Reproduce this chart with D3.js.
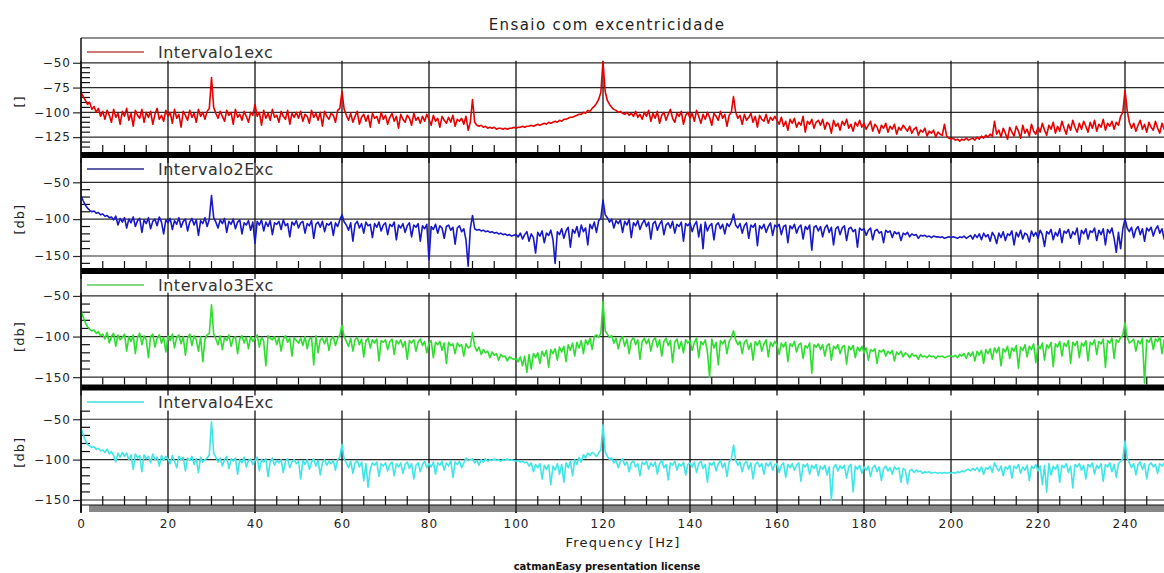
<!DOCTYPE html>
<html>
<head>
<meta charset="utf-8">
<script src="https://cdn.jsdelivr.net/npm/d3@7"></script>
<style>
  html, body { margin: 0; padding: 0; background: #fff; }
  svg { display: block; font-family: "DejaVu Sans", Verdana, sans-serif; }
</style>
</head>
<body>
<svg id="chart" width="1164" height="573"></svg>
<script>
// Spectrum lines are sampled every 0.5 Hz from 0 to 250 Hz.
const FREQ_STEP = 0.5;
const freqTicks = [0, 20, 40, 60, 80, 100, 120, 140, 160, 180, 200, 220, 240];

const seriesNames = ["Intervalo1exc", "Intervalo2Exc", "Intervalo3Exc", "Intervalo4Exc"];
const unitLabels = ["[]", "[db]", "[db]", "[db]"];
const yTicksFirst = [-50, -75, -100, -125];
const yTicksOther = [-50, -100, -150];

// Amplitude spectra, one value per 0.5 Hz bin (dB)
const intervalo1exc = [
  -80, -84, -88, -92, -90, -97, -94, -100, -96, -104, -99, -107, -98, -103, -110, -97, -105, -101, -112, -99,
  -104, -96, -108, -101, -114, -98, -103, -106, -97, -110, -100, -105, -99, -112, -102, -96, -107, -103, -109, -98,
  -104, -100, -111, -97, -106, -102, -115, -99, -103, -108, -98, -105, -101, -110, -97, -104, -100, -107, -99, -96,
  -65, -95, -101, -106, -99, -104, -109, -98, -103, -100, -112, -97, -105, -102, -108, -99, -104, -110, -100, -103,
  -92, -104, -100, -113, -98, -106, -101, -108, -97, -105, -103, -110, -99, -104, -107, -98, -112, -101, -105, -100,
  -106, -99, -109, -102, -104, -111, -98, -105, -101, -108, -100, -114, -99, -104, -107, -101, -103, -110, -98, -96,
  -79, -97, -103, -108, -101, -110, -104, -99, -112, -105, -102, -109, -103, -115, -101, -106, -104, -111, -100, -107,
  -103, -112, -105, -101, -109, -104, -116, -102, -107, -110, -103, -106, -113, -101, -108, -105, -111, -104, -109, -102,
  -107, -113, -103, -109, -106, -115, -104, -108, -111, -105, -110, -103, -114, -107, -109, -106, -112, -104, -118, -110,
  -87, -110, -113, -114, -113, -115, -114, -116, -115, -116, -115, -117, -116, -116, -117, -116, -117, -116, -116, -115,
  -116, -115, -115, -114, -115, -114, -114, -113, -114, -113, -112, -113, -112, -111, -112, -110, -111, -110, -109, -110,
  -108, -109, -107, -107, -106, -105, -105, -104, -103, -102, -102, -100, -101, -98, -99, -96, -94, -91, -87, -80,
  -49, -79, -88, -92, -95, -97, -98, -100, -99, -101, -102, -100, -103, -101, -104, -99, -105, -102, -107, -100,
  -104, -98, -109, -101, -106, -99, -111, -103, -100, -108, -102, -97, -106, -110, -101, -104, -99, -112, -103, -100,
  -106, -101, -109, -98, -104, -111, -102, -107, -100, -105, -113, -101, -104, -108, -99, -106, -102, -114, -103, -100,
  -84, -100, -106, -103, -112, -102, -108, -105, -101, -110, -104, -115, -103, -107, -109, -102, -111, -105, -108, -104,
  -108, -112, -105, -114, -109, -118, -107, -111, -106, -115, -110, -113, -104, -120, -109, -112, -107, -116, -110, -108,
  -113, -107, -117, -110, -112, -121, -108, -114, -111, -118, -109, -113, -107, -116, -112, -119, -110, -114, -108, -115,
  -111, -117, -113, -109, -119, -112, -115, -121, -113, -116, -111, -120, -114, -117, -112, -122, -115, -118, -113, -116,
  -119, -114, -121, -117, -115, -123, -118, -120, -116, -124, -119, -121, -118, -125, -120, -122, -123, -112, -124, -126,
  -127, -126, -128, -127, -129, -127, -128, -126, -128, -127, -126, -128, -125, -127, -124, -126, -123, -125, -122, -124,
  -109, -122, -118, -125, -116, -121, -127, -115, -120, -124, -114, -119, -126, -113, -121, -117, -124, -112, -119, -122,
  -115, -120, -111, -118, -123, -113, -117, -110, -121, -114, -119, -109, -116, -122, -112, -118, -108, -115, -120, -111,
  -117, -109, -114, -120, -110, -116, -108, -119, -112, -115, -107, -118, -111, -114, -109, -117, -110, -113, -104, -100,
  -78, -98, -110, -116, -111, -119, -113, -108, -117, -112, -120, -110, -115, -118, -109, -116, -121, -111, -117, -113, -115
];

const intervalo2Exc = [
  -68, -75, -81, -85, -88, -90, -89, -92, -91, -94, -93, -96, -95, -98, -97, -101, -96, -108, -99, -104,
  -98, -112, -100, -105, -97, -110, -102, -99, -118, -101, -106, -98, -113, -103, -100, -109, -97, -104, -120, -101,
  -105, -99, -114, -102, -107, -98, -111, -103, -100, -116, -104, -99, -108, -101, -122, -102, -106, -98, -110, -100,
  -68, -98, -104, -112, -101, -106, -99, -118, -103, -107, -100, -113, -104, -101, -120, -105, -108, -102, -115, -104,
  -133, -103, -108, -101, -116, -104, -110, -102, -121, -105, -107, -103, -114, -101, -109, -106, -124, -104, -108, -102,
  -112, -105, -103, -119, -106, -109, -102, -126, -107, -104, -111, -103, -117, -106, -108, -104, -122, -105, -110, -101,
  -94, -104, -108, -115, -105, -130, -107, -103, -112, -106, -119, -104, -109, -107, -125, -106, -111, -104, -116, -108,
  -105, -121, -107, -110, -104, -128, -108, -112, -106, -118, -109, -105, -124, -108, -111, -106, -130, -109, -113, -107,
  -155, -110, -114, -107, -119, -109, -112, -126, -110, -108, -115, -111, -134, -112, -109, -117, -113, -128, -164, -113,
  -95, -113, -115, -114, -116, -115, -117, -116, -118, -117, -119, -118, -120, -119, -121, -120, -122, -121, -123, -122,
  -121, -124, -119, -127, -121, -117, -130, -120, -125, -146, -118, -123, -116, -132, -119, -122, -115, -128, -160, -117,
  -121, -113, -126, -116, -111, -138, -114, -119, -110, -124, -108, -117, -112, -135, -107, -113, -104, -118, -102, -99,
  -74, -94, -98, -104, -100, -112, -102, -106, -101, -118, -103, -108, -100, -125, -105, -109, -102, -114, -106, -101,
  -110, -104, -127, -106, -103, -115, -107, -102, -121, -108, -105, -112, -103, -119, -107, -110, -104, -130, -106, -109,
  -105, -117, -108, -103, -124, -107, -140, -104, -116, -109, -106, -128, -108, -105, -113, -107, -120, -106, -110, -104,
  -93, -108, -112, -106, -119, -109, -105, -126, -108, -111, -106, -136, -109, -113, -107, -118, -110, -105, -122, -108,
  -111, -107, -121, -110, -108, -132, -109, -113, -107, -119, -111, -108, -127, -110, -114, -108, -142, -111, -109, -116,
  -110, -124, -112, -108, -118, -111, -135, -113, -110, -121, -112, -109, -129, -113, -111, -117, -114, -138, -112, -115,
  -113, -122, -115, -112, -128, -116, -114, -119, -117, -132, -115, -118, -116, -125, -117, -120, -118, -129, -119, -121,
  -118, -124, -120, -122, -121, -126, -122, -123, -122, -124, -123, -125, -123, -124, -124, -125, -124, -126, -125, -124,
  -125, -124, -125, -126, -124, -125, -123, -126, -124, -122, -127, -121, -125, -120, -128, -119, -124, -121, -130, -118,
  -123, -133, -119, -125, -117, -129, -120, -122, -116, -135, -118, -124, -115, -127, -119, -121, -131, -116, -123, -118,
  -126, -115, -121, -137, -117, -120, -114, -128, -118, -123, -113, -132, -116, -119, -114, -126, -117, -121, -112, -134,
  -115, -120, -113, -127, -116, -118, -112, -129, -115, -121, -113, -135, -114, -119, -112, -126, -145, -118, -140, -113,
  -100, -112, -117, -111, -125, -114, -110, -121, -113, -130, -112, -116, -111, -123, -114, -109, -119, -113, -127, -112, -115
];

const intervalo3Exc = [
  -69, -76, -83, -88, -91, -93, -92, -96, -94, -99, -97, -103, -95, -108, -100, -96, -112, -98, -104, -101,
  -97, -118, -100, -106, -98, -121, -101, -96, -110, -99, -104, -126, -100, -97, -113, -102, -98, -108, -101, -119,
  -99, -105, -97, -114, -101, -98, -109, -100, -123, -102, -97, -111, -99, -104, -118, -100, -131, -103, -98, -96,
  -61, -97, -103, -110, -99, -116, -101, -105, -98, -112, -102, -100, -121, -103, -99, -108, -101, -115, -100, -106,
  -102, -98, -113, -101, -106, -136, -99, -102, -104, -100, -110, -101, -118, -103, -99, -107, -102, -124, -101, -105,
  -108, -102, -111, -100, -115, -103, -101, -135, -99, -120, -104, -102, -109, -101, -117, -103, -100, -111, -102, -98,
  -86, -100, -106, -112, -102, -118, -104, -101, -110, -103, -125, -105, -102, -114, -104, -108, -103, -130, -105, -107,
  -104, -116, -106, -103, -122, -105, -109, -104, -113, -106, -128, -105, -108, -104, -118, -107, -103, -111, -106, -120,
  -108, -105, -126, -107, -110, -106, -117, -108, -133, -107, -111, -109, -121, -108, -112, -110, -124, -109, -114, -112,
  -95, -112, -118, -113, -122, -116, -120, -118, -126, -119, -123, -121, -129, -122, -125, -124, -130, -125, -127, -128,
  -127, -131, -125, -136, -124, -144, -122, -140, -121, -126, -120, -133, -118, -124, -117, -138, -116, -121, -115, -129,
  -113, -119, -112, -131, -110, -117, -108, -124, -107, -114, -105, -121, -104, -110, -102, -116, -100, -98, -101, -96,
  -57, -93, -97, -101, -99, -108, -102, -115, -104, -100, -112, -103, -121, -105, -101, -110, -104, -128, -106, -102,
  -109, -103, -118, -105, -101, -113, -104, -124, -106, -102, -111, -105, -132, -107, -103, -115, -106, -120, -104, -108,
  -105, -117, -107, -102, -126, -106, -110, -104, -119, -150, -103, -114, -107, -135, -105, -109, -104, -121, -106, -101,
  -93, -104, -110, -106, -121, -107, -104, -116, -108, -129, -106, -111, -105, -118, -109, -104, -125, -107, -112, -106,
  -110, -122, -108, -113, -107, -131, -109, -112, -106, -119, -110, -108, -127, -111, -114, -108, -145, -110, -113, -109,
  -116, -110, -124, -111, -109, -129, -112, -115, -110, -121, -113, -111, -134, -112, -116, -111, -126, -113, -118, -112,
  -120, -114, -129, -116, -118, -115, -133, -117, -119, -116, -124, -118, -121, -117, -130, -119, -122, -118, -125, -120,
  -122, -126, -121, -124, -123, -128, -122, -125, -124, -126, -123, -125, -124, -127, -124, -125, -124, -126, -125, -124,
  -124, -125, -123, -126, -122, -124, -121, -127, -120, -124, -119, -130, -118, -123, -117, -133, -116, -121, -115, -128,
  -114, -120, -113, -136, -115, -119, -112, -127, -114, -118, -111, -139, -113, -117, -110, -125, -112, -116, -109, -132,
  -111, -115, -108, -129, -110, -114, -107, -137, -109, -113, -106, -124, -108, -112, -105, -133, -107, -111, -106, -126,
  -108, -112, -105, -130, -107, -110, -104, -122, -106, -109, -103, -138, -105, -108, -102, -127, -104, -107, -101, -98,
  -83, -101, -108, -106, -103, -118, -105, -109, -102, -157, -104, -107, -101, -116, -103, -106, -100, -121, -104, -108, -103
];

const intervalo4Exc = [
  -61, -69, -76, -81, -83, -85, -84, -87, -86, -89, -88, -91, -87, -93, -90, -95, -103, -92, -97, -91,
  -96, -92, -100, -94, -112, -93, -98, -95, -115, -94, -99, -96, -104, -93, -100, -97, -108, -95, -101, -96,
  -99, -105, -95, -102, -110, -96, -100, -97, -114, -98, -101, -96, -106, -99, -116, -97, -103, -100, -98, -94,
  -53, -92, -97, -103, -98, -108, -100, -96, -111, -99, -102, -98, -118, -100, -104, -97, -109, -101, -99, -106,
  -101, -97, -114, -100, -103, -99, -121, -102, -98, -107, -101, -104, -100, -116, -102, -99, -110, -103, -100, -105,
  -102, -124, -101, -106, -100, -112, -103, -99, -108, -101, -119, -104, -100, -107, -102, -105, -101, -113, -100, -97,
  -81, -99, -104, -110, -102, -117, -104, -101, -109, -103, -126, -105, -134, -112, -104, -107, -103, -121, -105, -108,
  -104, -114, -106, -103, -120, -105, -109, -104, -117, -106, -103, -111, -105, -124, -107, -104, -115, -106, -102, -110,
  -105, -109, -103, -118, -104, -107, -102, -113, -104, -108, -101, -122, -103, -106, -102, -110, -104, -98, -101, -100,
  -99, -104, -101, -107, -100, -103, -99, -102, -100, -101, -99, -101, -100, -102, -100, -101, -99, -101, -100, -101,
  -102, -101, -103, -102, -104, -103, -108, -104, -115, -106, -110, -105, -124, -107, -112, -106, -131, -108, -113, -105,
  -118, -106, -128, -104, -110, -102, -120, -100, -106, -97, -103, -94, -98, -92, -95, -91, -93, -96, -92, -88,
  -57, -90, -96, -100, -98, -104, -101, -110, -102, -99, -107, -103, -115, -104, -101, -109, -105, -120, -103, -106,
  -102, -112, -104, -108, -103, -118, -105, -101, -110, -106, -125, -104, -107, -102, -113, -105, -108, -103, -119, -106,
  -104, -109, -103, -116, -105, -102, -111, -106, -128, -104, -107, -103, -114, -105, -101, -110, -104, -121, -103, -99,
  -82, -101, -107, -103, -115, -105, -102, -112, -104, -124, -106, -103, -109, -105, -118, -104, -108, -103, -113, -106,
  -105, -116, -107, -104, -122, -106, -110, -105, -113, -107, -104, -127, -106, -109, -105, -118, -107, -111, -106, -120,
  -108, -112, -107, -119, -109, -150, -110, -106, -114, -108, -111, -107, -123, -109, -106, -140, -108, -112, -107, -117,
  -109, -113, -108, -121, -110, -107, -115, -109, -126, -111, -108, -114, -110, -118, -109, -112, -110, -128, -111, -113,
  -130, -114, -112, -116, -113, -115, -114, -117, -115, -116, -115, -117, -116, -116, -117, -116, -117, -116, -117, -116,
  -117, -116, -117, -115, -116, -114, -115, -113, -112, -114, -111, -113, -110, -115, -109, -118, -110, -112, -108, -116,
  -104, -110, -114, -108, -120, -109, -112, -107, -123, -108, -111, -106, -117, -109, -113, -107, -126, -108, -111, -106,
  -114, -108, -131, -107, -140, -105, -119, -108, -112, -106, -128, -107, -110, -105, -116, -108, -135, -106, -109, -105,
  -113, -107, -124, -106, -109, -104, -118, -107, -111, -105, -127, -106, -109, -104, -115, -106, -122, -105, -102, -99,
  -77, -98, -104, -110, -105, -119, -106, -103, -112, -105, -124, -107, -104, -109, -106, -117, -105, -108, -104, -113, -106
];

// ---- layout --------------------------------------------------------------
const W = 1164;
const plotLeft = 81;
const plotRight = 1168.5;   // 250 Hz sits just past the window edge
const barH = 6;

const panels = [
  { values: intervalo1exc, color: "#e80000", legendColor: "#c04848", top: 38, bottom: 152,
    domain: [-140, -25], ticks: yTicksFirst, minorStep: 5, gridTop: -48, tickTop: -50,
    unitAt: -89, legendY: 52 },
  { values: intervalo2Exc, color: "#1818c8", legendColor: "#2a2a88", top: 158, bottom: 268,
    domain: [-166.3, -17], ticks: yTicksOther, minorStep: 10, gridTop: -17, tickTop: -50,
    unitAt: -100, legendY: 169 },
  { values: intervalo3Exc, color: "#2ede2e", legendColor: "#5ccc5c", top: 274, bottom: 384.5,
    domain: [-159, -23], ticks: yTicksOther, minorStep: 10, gridTop: -46, tickTop: -50,
    unitAt: -100, legendY: 285 },
  { values: intervalo4Exc, color: "#3ee6e6", legendColor: "#44dcdc", top: 391, bottom: 505,
    domain: [-156.2, -15], ticks: yTicksOther, minorStep: 10, gridTop: -39, tickTop: -40,
    unitAt: -91, legendY: 402 }
];

const svg = d3.select("#chart");
const x = d3.scaleLinear().domain([0, 250]).range([plotLeft, plotRight]);
const fmt = d3.format("d");

// title
svg.append("text")
  .attr("x", 607).attr("y", 30)
  .attr("text-anchor", "middle")
  .attr("font-size", 15).attr("letter-spacing", "1.4px")
  .attr("fill", "#222")
  .text("Ensaio com excentricidade");

// top frame line of the first panel
svg.append("line")
  .attr("x1", plotLeft).attr("x2", W)
  .attr("y1", 38).attr("y2", 38)
  .attr("stroke", "#6a6a6a").attr("stroke-width", 1.5);

const defs = svg.append("defs");
const minorFreq = d3.range(5, 250, 5).filter(f => f % 20 !== 0);

panels.forEach((p, k) => {
  const y = d3.scaleLinear().domain(p.domain).range([p.bottom, p.top]);
  const g = svg.append("g");
  const last = k === panels.length - 1;

  // horizontal grid lines at the labelled values
  g.selectAll("line.hgrid").data(p.ticks).join("line")
    .attr("x1", plotLeft).attr("x2", W)
    .attr("y1", d => y(d)).attr("y2", d => y(d))
    .attr("stroke", "#2a2a2a").attr("stroke-width", 1.2);

  // vertical grid lines every 20 Hz
  const vExt = last ? 8 : barH + 5;
  g.selectAll("line.vgrid").data(freqTicks).join("line")
    .attr("x1", d => x(d)).attr("x2", d => x(d))
    .attr("y1", y(p.gridTop)).attr("y2", p.bottom + vExt)
    .attr("stroke", "#111").attr("stroke-width", 1.3);

  // minor frequency ticks every 5 Hz
  g.selectAll("line.xminor").data(minorFreq).join("line")
    .attr("x1", d => x(d)).attr("x2", d => x(d))
    .attr("y1", p.bottom - (last ? 9 : 7)).attr("y2", p.bottom)
    .attr("stroke", "#111").attr("stroke-width", 1.2);

  // minor amplitude ticks
  const minorY = d3.range(Math.ceil(p.domain[0] / p.minorStep) * p.minorStep, p.tickTop + 0.1, p.minorStep)
    .filter(v => !p.ticks.includes(v) && y(v) < p.bottom - 1);
  g.selectAll("line.yminor").data(minorY).join("line")
    .attr("x1", plotLeft).attr("x2", plotLeft + 9)
    .attr("y1", d => y(d)).attr("y2", d => y(d))
    .attr("stroke", "#111").attr("stroke-width", 1.2);

  // left axis with labels
  const axis = d3.axisLeft(y).tickValues(p.ticks).tickFormat(fmt).tickSize(8).tickPadding(2);
  const ag = g.append("g").attr("transform", `translate(${plotLeft},0)`).call(axis);
  ag.select(".domain").remove();
  ag.selectAll(".tick line").attr("stroke", "#2a2a2a").attr("stroke-width", 1.2);
  ag.selectAll(".tick text")
    .attr("font-family", "DejaVu Sans, Verdana, sans-serif")
    .attr("font-size", 12).attr("letter-spacing", "1px").attr("fill", "#222");

  // unit label
  g.append("text")
    .attr("transform", `translate(19,${y(p.unitAt)}) rotate(-90)`)
    .attr("text-anchor", "middle").attr("dominant-baseline", "central")
    .attr("font-size", 13).attr("letter-spacing", "1px").attr("fill", "#222")
    .text(unitLabels[k]);

  // spectrum line, clipped to the panel
  const clipId = "clip" + k;
  defs.append("clipPath").attr("id", clipId).append("rect")
    .attr("x", plotLeft).attr("y", p.top)
    .attr("width", W - plotLeft).attr("height", p.bottom - p.top);
  const line = d3.line()
    .x((d, i) => x(i * FREQ_STEP))
    .y(d => y(d));
  g.append("path")
    .datum(p.values)
    .attr("clip-path", `url(#${clipId})`)
    .attr("fill", "none")
    .attr("stroke", p.color).attr("stroke-width", 1.6)
    .attr("stroke-linejoin", "round")
    .attr("d", line);

  // legend
  g.append("line")
    .attr("x1", 87).attr("x2", 144)
    .attr("y1", p.legendY).attr("y2", p.legendY)
    .attr("stroke", p.legendColor).attr("stroke-width", 1.5);
  g.append("text")
    .attr("x", 158).attr("y", p.legendY + 6)
    .attr("font-size", 16).attr("letter-spacing", "0.5px").attr("fill", "#333")
    .text(seriesNames[k]);

  // bottom separator
  if (!last) {
    g.append("rect")
      .attr("x", plotLeft).attr("y", p.bottom)
      .attr("width", W - plotLeft).attr("height", barH)
      .attr("fill", "#000");
  } else {
    g.append("rect")
      .attr("x", 89).attr("y", p.bottom)
      .attr("width", W - 89).attr("height", 7)
      .attr("fill", "#878787");
    g.append("line")
      .attr("x1", plotLeft).attr("x2", W)
      .attr("y1", p.bottom).attr("y2", p.bottom)
      .attr("stroke", "#111").attr("stroke-width", 1);
    // 20 Hz lines continue across the grey strip
    g.selectAll("line.vstrip").data(freqTicks).join("line")
      .attr("x1", d => x(d)).attr("x2", d => x(d))
      .attr("y1", p.bottom).attr("y2", p.bottom + 8)
      .attr("stroke", "#111").attr("stroke-width", 1.3);
    // frequency axis labels
    const xa = d3.axisBottom(x).tickValues(freqTicks).tickFormat(fmt).tickSize(0).tickPadding(7.5);
    const xg = g.append("g").attr("transform", `translate(0,${p.bottom + 7})`).call(xa);
    xg.select(".domain").remove();
    xg.selectAll(".tick text")
      .attr("font-family", "DejaVu Sans, Verdana, sans-serif")
      .attr("font-size", 12).attr("letter-spacing", "1px").attr("fill", "#222");
  }
});

// left axis line through all panels
svg.append("line")
  .attr("x1", plotLeft).attr("x2", plotLeft)
  .attr("y1", 38).attr("y2", 512)
  .attr("stroke", "#111").attr("stroke-width", 1.5);

svg.append("text")
  .attr("x", 623).attr("y", 547)
  .attr("text-anchor", "middle")
  .attr("font-size", 13).attr("letter-spacing", "1.2px").attr("fill", "#222")
  .text("Frequency [Hz]");

svg.append("text")
  .attr("x", 607).attr("y", 570)
  .attr("text-anchor", "middle")
  .attr("font-size", 10).attr("font-weight", "bold").attr("fill", "#111")
  .text("catmanEasy presentation license");
</script>
</body>
</html>
